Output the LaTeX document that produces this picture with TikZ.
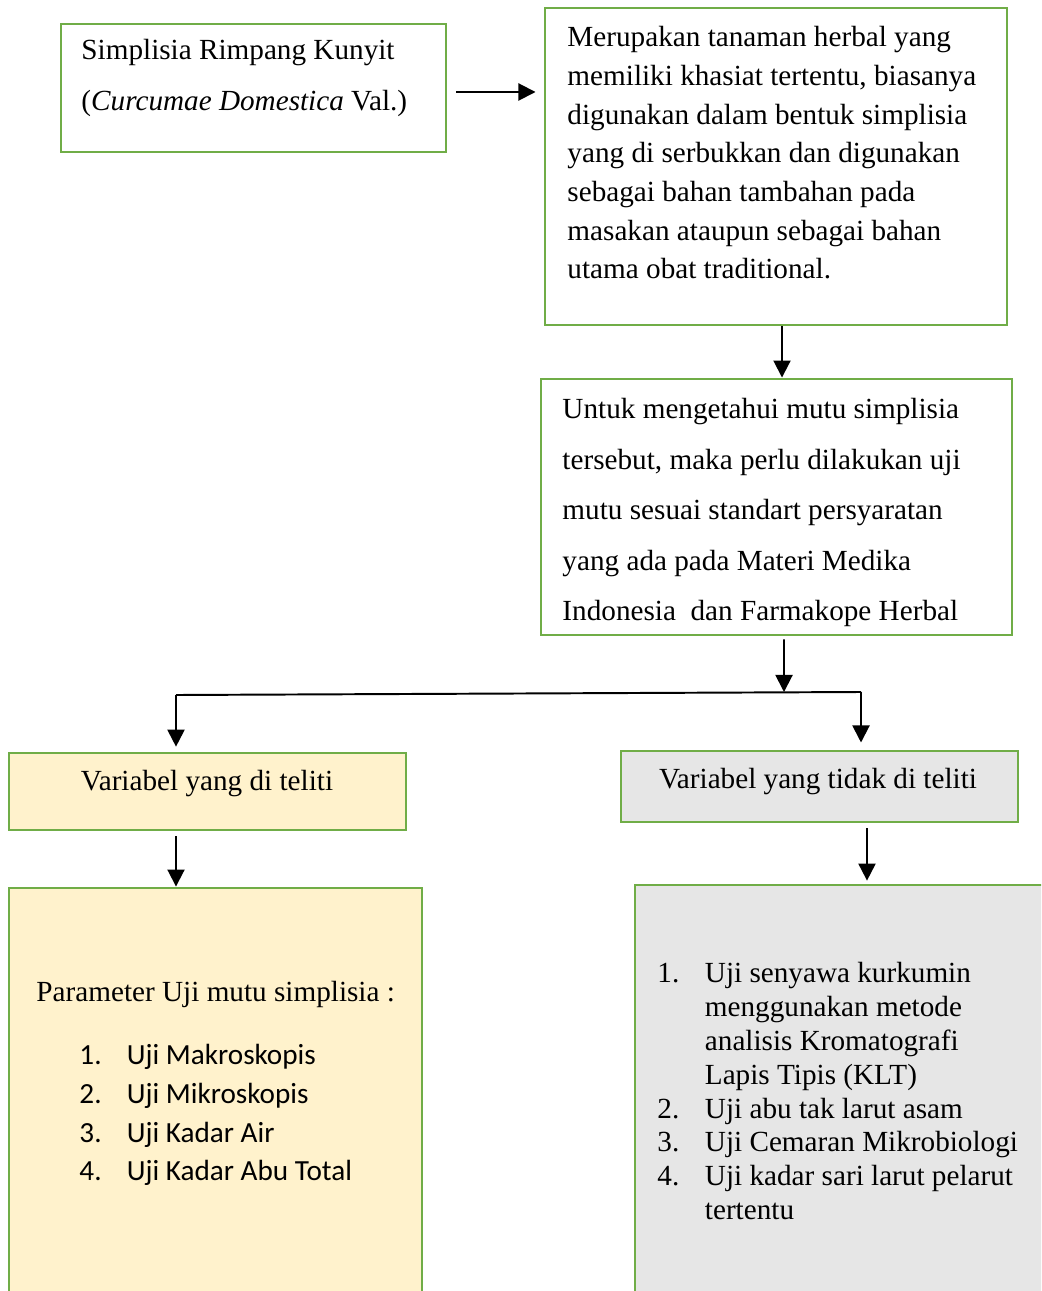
\documentclass[tikz,border=0pt]{standalone}
\usepackage{fontspec}
\setmainfont{Liberation Serif}
\newfontfamily\calibri{Carlito}
\usetikzlibrary{arrows.meta,fit,calc}

\definecolor{hijaugaris}{HTML}{70AD47}
\definecolor{kuningmuda}{HTML}{FFF2CC}
\definecolor{abumuda}{HTML}{E6E6E6}
\newcommand{\nomor}[1]{\makebox[19.5pt][l]{#1}}

\begin{document}
\begin{tikzpicture}[
                    x=0.411pt, y=-0.411pt,
                    >={Triangle[length=7pt,width=7pt]},
                    kotak/.style={draw=hijaugaris, line width=1.2pt, inner sep=0pt},
                    teks/.style={anchor=north west, inner sep=0pt, align=left},
                    panah/.style={->, line width=0.8pt}
            ]
                \useasboundingbox (0,0) rectangle (1041,1291);
                \clip (0,0) rectangle (1041,1291);

                % kotak bagian atas
                \node [kotak, fit={(61,24) (446,152)}] (simplisia) {};
                \node [teks, font=\fontsize{12}{21}\selectfont] (tsimplisia) at (81,39)
                    {Simplisia Rimpang Kunyit\\(\textit{Curcumae Domestica} Val.)};

                \node [kotak, fit={(545,8) (1007,325)}] (kegunaan) {};
                \node [teks, font=\fontsize{12}{15.9}\selectfont] (tkegunaan) at (567,26)
                    {Merupakan tanaman herbal yang\\
                     memiliki khasiat tertentu, biasanya\\
                     digunakan dalam bentuk simplisia\\
                     yang di serbukkan dan digunakan\\
                     sebagai bahan tambahan pada\\
                     masakan ataupun sebagai bahan\\
                     utama obat traditional.};

                \node [kotak, fit={(541,379) (1012,635)}] (mutu) {};
                \node [teks, font=\fontsize{12}{20.75}\selectfont] (tmutu) at (562,398)
                    {Untuk mengetahui mutu simplisia\\
                     tersebut, maka perlu dilakukan uji\\
                     mutu sesuai standart persyaratan\\
                     yang ada pada Materi Medika\\
                     Indonesia\ \ dan Farmakope Herbal};

                % kotak variabel
                \node [kotak, fill=kuningmuda, fit={(9,753) (406,830)}] (diteliti) {};
                \node [inner sep=0pt, font=\fontsize{12}{14}\selectfont] (tditeliti) at (207,784)
                    {Variabel yang di teliti};

                \node [kotak, fill=abumuda, fit={(621,751) (1018,822)}] (tidakditeliti) {};
                \node [inner sep=0pt, font=\fontsize{12}{14}\selectfont] (ttidakditeliti) at (818,782)
                    {Variabel yang tidak di teliti};

                % kotak parameter uji
                \node [kotak, fill=kuningmuda, fit={(9,888) (422,1310)}] (parameter) {};
                \node [anchor=west, inner sep=0pt, font=\fontsize{12}{14}\selectfont] (tparameter) at (36,994)
                    {Parameter Uji mutu simplisia :};
                \node [teks, font=\calibri\fontsize{12}{15.9}\selectfont] (daftarparameter) at (79,1044)
                    {\nomor{1.}Uji Makroskopis\\
                     \nomor{2.}Uji Mikroskopis\\
                     \nomor{3.}Uji Kadar Air\\
                     \nomor{4.}Uji Kadar Abu Total};

                \node [kotak, fill=abumuda, fit={(635,885) (1060,1310)}] (uji) {};
                \node [teks, font=\fontsize{12}{13.9}\selectfont] (daftaruji) at (657,962)
                    {\nomor{1.}Uji senyawa kurkumin\\
                     \nomor{}menggunakan metode\\
                     \nomor{}analisis Kromatografi\\
                     \nomor{}Lapis Tipis (KLT)\\
                     \nomor{2.}Uji abu tak larut asam\\
                     \nomor{3.}Uji Cemaran Mikrobiologi\\
                     \nomor{4.}Uji kadar sari larut pelarut\\
                     \nomor{}tertentu};

                % titik bantu
                \coordinate (mulai) at ($(simplisia.east)+(9,4)$);
                \coordinate (bawahb) at ($(kegunaan.south)+(6,0)$);
                \coordinate (bawahc) at ($(mutu.south)+(7.5,0)$);
                \coordinate (cabang) at (784,692);
                \coordinate (kiri) at (176,695);
                \coordinate (kanan) at (861,692);
                \coordinate (garise) at (867,822);

                % panah
                \draw [panah, shorten >=3.3pt] (mulai) -- (mulai -| kegunaan.west);
                \draw [panah] (bawahb) -- (bawahb |- mutu.north);
                \draw [panah, shorten <=1.2pt] (bawahc) -- (cabang);
                \draw [line width=0.8pt] (kiri) -- (kanan);
                \draw [panah, shorten >=2pt] (kiri) -- (kiri |- diteliti.north);
                \draw [panah, shorten >=2.9pt] (kanan) -- (kanan |- tidakditeliti.north);
                \draw [panah, shorten <=2pt] (diteliti.south -| kiri) -- (parameter.north -| kiri);
                \draw [panah, shorten <=2.5pt, shorten >=1.2pt] (garise) -- (garise |- uji.north);
            \end{tikzpicture}
\end{document}
